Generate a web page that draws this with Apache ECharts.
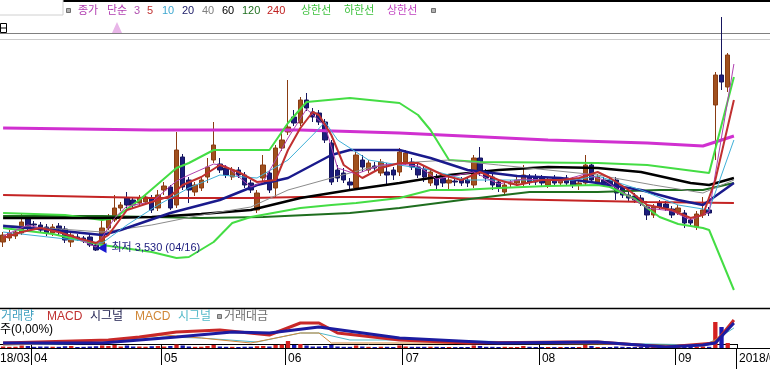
<!DOCTYPE html>
<html><head><meta charset="utf-8">
<script src="https://cdn.jsdelivr.net/npm/echarts@6/dist/echarts.min.js"></script>
<style>html,body{margin:0;padding:0;background:#fff;overflow:hidden}#c{width:770px;height:369px}</style>
</head><body><div id="c"></div>
<script>
// ---------- DATA ----------
const marchDays  = [26,27,28,29,30];
const aprilDays  = [2,3,4,5,6,9,10,11,12,13,16,17,18,19,20,23,24,25,26,27,30];
const mayDays    = [2,3,4,8,9,10,11,14,15,16,17,18,21,23,24,25,28,29,30,31];
const juneDays   = [1,4,5,7,8,11,12,14,15,18,19,20,21,22,25,26,27,28,29];
const julyDays   = [2,3,4,5,6,9,10,11,12,13,16,17,18,19,20,23,24,25,26,27,30,31];
const augustDays = [1,2,3,6,7,8,9,10,13,14,16,17,20,21,22,23,24,27,28,29,30,31];
const septDays   = [3,4,5,6,7,10,11,12,13];
const padSlots   = ['2018/09/14'];

// [open, close, low, high]
const candles = [
[3620,3690,3570,3720],[3660,3710,3630,3740],[3680,3720,3650,3750],[3710,3820,3690,3910],[3850,3770,3740,3890],[3800,3790,3760,3830],[3790,3740,3710,3820],[3770,3710,3680,3800],[3710,3770,3680,3800],[3780,3750,3680,3810],
[3750,3640,3610,3780],[3620,3690,3570,3720],[3670,3660,3630,3700],[3660,3640,3610,3680],[3670,3590,3570,3690],[3590,3540,3530,3610],[3590,3760,3560,3840],[3760,3860,3740,3900],[3840,3960,3820,4090],[3960,3990,3930,4020],
[4060,3990,3960,4120],[4040,3990,3960,4070],[4010,4060,3980,4090],[4020,4070,3990,4100],[4060,3940,3910,4090],[3960,4090,3930,4140],[4140,4180,4090,4220],[4170,3960,3940,4190],[3990,4540,3960,4720],[4470,4170,4140,4500],
[4240,4140,4010,4270],[4120,4190,4080,4220],[4160,4240,4130,4270],[4270,4370,4210,4460],[4440,4590,4410,4820],[4400,4340,4310,4460],[4360,4290,4260,4390],[4270,4340,4240,4370],[4340,4290,4260,4370],[4290,4190,4160,4320],
[4210,4140,4110,4240],[3940,4110,3910,4140],[4260,4390,4230,4490],[4310,4140,4110,4340],[4160,4560,4070,4590],[4560,4640,4530,4740],[4720,4770,4690,5240],[4870,4810,4780,4940],[4810,5040,4780,5070],[5040,4960,4930,5110],
[4920,4870,4820,4960],[4910,4820,4790,4940],[4820,4640,4610,4850],[4610,4220,4190,4640],[4340,4260,4220,4390],[4310,4240,4210,4360],[4220,4190,4140,4260],[4160,4490,4140,4520],[4440,4370,4320,4490],[4340,4410,4310,4440],
[4380,4360,4320,4420],[4310,4420,4280,4450],[4320,4290,4190,4410],[4340,4290,4240,4370],[4320,4520,4280,4560],[4420,4510,4390,4540],[4420,4370,4340,4460],[4370,4290,4260,4400],[4350,4270,4220,4380],[4210,4320,4180,4350],
[4270,4190,4140,4300],[4260,4210,4170,4290],[4210,4240,4140,4270],[4230,4220,4180,4260],[4240,4210,4180,4270],[4240,4210,4170,4270],[4190,4460,4160,4490],[4460,4310,4280,4570],[4320,4260,4220,4350],[4270,4190,4140,4300],
[4220,4170,4120,4250],[4120,4190,4090,4220],[4200,4210,4170,4240],[4210,4240,4180,4270],[4210,4290,4180,4390],[4270,4220,4190,4300],[4270,4220,4190,4300],[4260,4210,4180,4290],[4190,4240,4160,4270],[4260,4210,4180,4290],
[4210,4240,4180,4270],[4260,4210,4180,4290],[4240,4190,4160,4270],[4190,4210,4140,4240],[4210,4390,4180,4490],[4390,4240,4210,4420],[4220,4270,4190,4300],[4240,4210,4180,4270],[4240,4190,4160,4270],[4240,4110,4040,4270],
[4160,4090,4060,4190],[4090,4060,4030,4120],[4080,4040,4010,4110],[4060,4010,3980,4090],[3970,3890,3840,4000],[3890,3970,3860,4000],[4010,3970,3940,4040],[4000,3960,3930,4030],[3950,3890,3860,3980],[3920,3960,3890,3990],
[3910,3810,3760,3940],[3840,3810,3780,3870],[3770,3900,3740,3930],[3890,3940,3860,4070],[3940,3910,3880,3970],[4990,5290,4440,5320],[5290,5220,5140,5870],[5170,5490,5120,5510]
];

const volumes = [
150,120,130,250,200,120,150,150,130,120,
180,200,100,120,150,180,250,200,300,150,
250,150,150,130,180,200,150,200,350,250,
150,120,130,200,300,150,120,120,100,130,
130,180,200,150,300,350,700,300,400,250,
150,150,200,300,150,120,120,250,150,120,
100,130,120,100,250,150,120,120,120,130,
120,100,100,90,100,100,250,200,120,120,
100,120,90,100,200,120,100,100,100,90,
100,100,100,100,300,200,100,90,100,150,
120,100,100,120,150,120,100,100,120,100,
150,120,150,150,120,2600,2100,500
];

// line points: [category index, value]
const envUpper = [[0,4760],[24,4740],[48,4740],[64,4710],[88,4640],[104,4610],[113,4580],[118,4680]];
const ma240 = [[0,4090],[24,4060],[40,4060],[48,4070],[64,4070],[72,4060],[88,4040],[104,4020],[118,4010]];
const ma120 = [[0,3880],[16,3880],[32,3860],[42,3870],[56,3910],[64,3960],[74,4040],[85,4120],[96,4120],[106,4140],[113,4140],[118,4210]];
const ma60 = [[0,3860],[16,3860],[24,3870],[32,3900],[40,3940],[48,4060],[56,4140],[64,4210],[72,4290],[80,4340],[88,4370],[96,4360],[103,4320],[111,4210],[114,4190],[118,4260]];
const ma40 = [[0,3790],[16,3720],[24,3790],[32,3890],[40,3970],[46,4140],[53,4260],[59,4360],[64,4410],[72,4440],[80,4390],[88,4340],[96,4290],[105,4190],[113,4110],[118,4240]];
const ma20 = [[0,3780],[8,3740],[16,3690],[19,3740],[27,3910],[35,4040],[41,4190],[46,4260],[53,4490],[56,4540],[64,4540],[69,4460],[75,4340],[83,4280],[90,4260],[96,4210],[103,4140],[109,4040],[113,3990],[118,4210]];
const ma10 = [[0,3720],[16,3610],[20,3790],[25,3990],[30,4160],[35,4290],[41,4260],[46,4440],[50,4690],[52,4820],[54,4640],[59,4440],[64,4390],[69,4340],[75,4240],[84,4240],[92,4240],[96,4280],[103,4140],[109,3990],[114,3940],[118,4640]];
const ma5 = [[0,3660],[3,3720],[6,3760],[9,3720],[12,3660],[15,3610],[17,3690],[20,3940],[24,4020],[27,4080],[29,4190],[32,4270],[35,4390],[38,4320],[41,4220],[44,4240],[46,4540],[48,4760],[50,4920],[51,4890],[53,4690],[55,4390],[58,4260],[61,4360],[64,4410],[67,4410],[71,4290],[74,4240],[77,4320],[80,4240],[83,4190],[87,4240],[90,4240],[93,4260],[96,4320],[98,4260],[101,4140],[104,3990],[108,3940],[111,3860],[113,3890],[115,4240],[118,5040]];
const ma3 = [[0,3680],[4,3790],[8,3730],[11,3680],[15,3570],[18,3860],[20,3980],[24,4020],[28,4230],[30,4290],[34,4400],[36,4380],[40,4170],[42,4220],[46,4660],[49,4950],[52,4780],[54,4360],[57,4300],[61,4390],[64,4400],[67,4380],[70,4250],[76,4320],[80,4200],[84,4250],[90,4230],[94,4300],[97,4240],[100,4120],[104,3960],[108,3930],[111,3840],[114,3920],[115,4300],[118,5400]];
const bbUpper = [[0,3910],[10,3890],[16,3840],[18,3860],[22,4040],[28,4360],[30,4410],[34,4540],[43,4540],[46,4810],[49,5020],[56,5060],[64,5010],[67,4890],[69,4740],[72,4440],[77,4420],[96,4410],[104,4390],[114,4310],[118,5270]];
const bbLower = [[0,3760],[8,3700],[16,3590],[24,3520],[28,3460],[30,3470],[34,3620],[37,3810],[40,3870],[48,3960],[53,3990],[57,4010],[64,4060],[69,4140],[74,4140],[80,4160],[88,4180],[96,4190],[98,4170],[102,4050],[106,3870],[109,3800],[113,3760],[114,3740],[118,3140]];

const macdLine   = [[0,5],[17,20],[22,35],[28,60],[35,70],[43,45],[48,105],[51,105],[54,55],[64,20],[75,5],[91,10],[96,10],[107,-15],[115,5],[118,120]];
const signalLine = [[0,5],[16,5],[28,35],[37,60],[43,55],[51,85],[64,30],[80,5],[96,10],[107,-15],[113,-5],[115,5],[118,105]];
const macdThin   = [[0,-5],[17,10],[26,45],[32,30],[40,5],[48,55],[51,55],[53,5],[64,5],[96,0],[113,-10],[115,20],[118,110]];
const signalThin = [[0,-5],[17,5],[26,35],[32,30],[41,10],[48,55],[51,55],[56,20],[64,20],[96,5],[113,-5],[115,20],[118,80]];

const topLegend = [
  ['종가','#b03cb0'],['단순','#b03cb0'],['3','#b050b0'],['5','#c03030'],['10','#40a8d0'],['20','#20206a'],
  ['40','#808080'],['60','#000000'],['120','#207020'],['240','#c02020'],['상한선','#3cc03c'],['하한선','#3cc03c'],['상한선','#c040c0']
];
const bottomLegend = [
  ['거래량','#40a0c0'],['MACD','#c03030'],['시그널','#202050'],['MACD','#d08838'],['시그널','#50b8c8'],['거래대금','#707070']
];
const volumeUnitText = '주(0,00%)';
const firstAxisLabel = '2018/03';
const lastAxisLabel = '2018/09';

// ---------- BUILD ----------
const monthLists = [['03',marchDays],['04',aprilDays],['05',mayDays],['06',juneDays],['07',julyDays],['08',augustDays],['09',septDays]];
const categories = [];
monthLists.forEach(([m, days]) => days.forEach(d => categories.push('2018/' + m + '/' + String(d).padStart(2,'0'))));
padSlots.forEach(s => categories.push(s));
const monthStarts = new Set();
categories.forEach((c, i) => { if (i > 0 && c.slice(5,7) !== categories[i-1].slice(5,7)) monthStarts.add(i); });

let lowIdx = 0;
candles.forEach((c, i) => { if (c[2] < candles[lowIdx][2]) lowIdx = i; });
const lowVal = candles[lowIdx][2];
const lowText = '최저 ' + lowVal.toLocaleString('en-US') + ' (' + categories[lowIdx].slice(5) + ')';

const UP = '#a0501e', UPB = '#8a3c12', DN = '#1c1c7c', DNB = '#16165e';
const FONT = '"Liberation Sans","Noto Sans CJK KR",sans-serif';

function ln(data, color, width, xi, yi, z) {
  return { type:'line', data, xAxisIndex:xi||0, yAxisIndex:yi||0, symbol:'none', showSymbol:false,
    lineStyle:{ color, width }, z: z||3, silent:true, animation:false };
}

const series = [
  { type:'candlestick', data: candles, xAxisIndex:0, yAxisIndex:0, barWidth:'80%', z:2,
    itemStyle:{ color:UP, color0:DN, borderColor:UPB, borderColor0:DNB, borderWidth:1 },
    markPoint:{ symbol:'triangle', symbolRotate:90, symbolSize:[10,9], symbolOffset:[6,-3],
      itemStyle:{ color:'#1818d0' },
      label:{ show:true, position:'right', distance:5, color:'#202080', fontSize:11, fontFamily:FONT, formatter: lowText },
      data:[{ coord:[categories[lowIdx], lowVal] }] } },
  ln(envUpper, '#d030d0', 3),
  ln(ma240, '#c42424', 2),
  ln(ma120, '#1f6e1f', 2),
  ln(bbUpper, '#44dd44', 2),
  ln(bbLower, '#44dd44', 2),
  ln(ma60, '#000000', 2.5),
  ln(ma40, '#8c8c8c', 1),
  ln(ma20, '#1a1a8c', 2.5),
  ln(ma10, '#40b0d8', 1),
  ln(ma3, '#b040b0', 1),
  ln(ma5, '#c03030', 2),
  { type:'bar', xAxisIndex:1, yAxisIndex:2, barWidth:'70%', z:2, animation:false,
    data: volumes.map((v, i) => ({ value:v, itemStyle:{ color: candles[i][1] >= candles[i][0] ? '#d42020' : '#1a1ab0' } })) },
  ln(signalThin, '#50b8c8', 1, 1, 1),
  ln(macdThin, '#d08838', 1, 1, 1),
  ln(macdLine, '#c82828', 3, 1, 1),
  ln(signalLine, '#1c1ca0', 3, 1, 1)
];

const els = [];
els.push({ type:'line', z:0, shape:{x1:0,y1:1,x2:770,y2:1}, style:{stroke:'#000',lineWidth:2} });
els.push({ type:'line', z:0, shape:{x1:0,y1:33.5,x2:770,y2:33.5}, style:{stroke:'#808080',lineWidth:1} });
els.push({ type:'line', z:0, shape:{x1:0,y1:39.5,x2:770,y2:39.5}, style:{stroke:'#cccccc',lineWidth:1} });
els.push({ type:'line', z:0, shape:{x1:0,y1:308.5,x2:770,y2:308.5}, style:{stroke:'#000',lineWidth:1.5} });
els.push({ type:'line', z:5, shape:{x1:0,y1:348.5,x2:770,y2:348.5}, style:{stroke:'#000',lineWidth:1} });
els.push({ type:'rect', z:0, shape:{x:-1,y:-1,width:64,height:16}, style:{fill:'#fff',stroke:'#d0d0d0',lineWidth:1} });
els.push({ type:'rect', z:0, shape:{x:66.5,y:8.5,width:4,height:4}, style:{fill:'#b0b0b0',stroke:'#707070',lineWidth:1} });
els.push({ type:'rect', z:0, shape:{x:431.5,y:8.5,width:4,height:4}, style:{fill:'#b0b0b0',stroke:'#707070',lineWidth:1} });
els.push({ type:'rect', z:0, shape:{x:0.5,y:23.5,width:6,height:9}, style:{fill:'#fff',stroke:'#000',lineWidth:1} });
els.push({ type:'line', z:0, shape:{x1:0,y1:28,x2:6,y2:28}, style:{stroke:'#000',lineWidth:1} });
els.push({ type:'polygon', z:0, shape:{points:[[112,33],[117,22],[122,33]]}, style:{fill:'#e8b6e8'} });
const topX = [78,107,134,147,162,182,202,222,242,267,301,344,387];
topLegend.forEach(([t,c], i) => els.push({ type:'text', z:10, style:{ text:t, x:topX[i], y:11, fill:c, font:'11px '+FONT, textVerticalAlign:'middle', verticalAlign:'middle' } }));
const botX = [1,47,90,135,178,224];
bottomLegend.forEach(([t,c], i) => els.push({ type:'text', z:10, style:{ text:t, x:botX[i], y:317, fill:c, font:'12px '+FONT, textVerticalAlign:'middle', verticalAlign:'middle' } }));
els.push({ type:'rect', z:10, shape:{x:217.5,y:314.5,width:4,height:4}, style:{fill:'#b0b0b0',stroke:'#707070',lineWidth:1} });
els.push({ type:'text', z:10, style:{ text:volumeUnitText, x:0, y:330, fill:'#000', font:'12px '+FONT, textVerticalAlign:'middle', verticalAlign:'middle' } });
els.push({ type:'text', z:10, style:{ text:firstAxisLabel, x:30, y:359, fill:'#000', font:'12px '+FONT, textAlign:'right', align:'right', textVerticalAlign:'middle', verticalAlign:'middle' } });
els.push({ type:'rect', z:10, shape:{x:736.5,y:348.5,width:40,height:25}, style:{fill:'#fff',stroke:'#000',lineWidth:1} });
els.push({ type:'text', z:11, style:{ text:lastAxisLabel, x:739, y:359, fill:'#000', font:'12px '+FONT, textVerticalAlign:'middle', verticalAlign:'middle' } });

const option = {
  animation:false,
  backgroundColor:'#ffffff',
  grid:[ {left:0, right:33, top:0, height:308}, {left:0, right:33, top:309, height:39} ],
  xAxis:[
    { type:'category', gridIndex:0, data:categories, boundaryGap:true, axisLine:{show:false}, axisTick:{show:false}, axisLabel:{show:false}, splitLine:{show:false} },
    { type:'category', gridIndex:1, data:categories, boundaryGap:true, position:'bottom',
      axisLine:{ show:true, lineStyle:{ color:'#000', width:1 } },
      axisTick:{ show:true, length:21, interval:(i)=>monthStarts.has(i), lineStyle:{ color:'#000', width:1 } },
      axisLabel:{ show:true, interval:(i)=>monthStarts.has(i), formatter:(v)=>v.slice(5,7), align:'left', margin:5, color:'#000', fontSize:12, fontFamily:FONT },
      splitLine:{show:false} }
  ],
  yAxis:[
    { type:'value', gridIndex:0, min:2960, max:6040, show:false, splitLine:{show:false} },
    { type:'value', gridIndex:1, min:-20, max:175, show:false, splitLine:{show:false} },
    { type:'value', gridIndex:1, min:0, max:3900, show:false, splitLine:{show:false} }
  ],
  series,
  graphic:{ elements: els }
};
const chart = echarts.init(document.getElementById('c'), null, { renderer:'canvas', width:770, height:369 });
chart.setOption(option);
</script>
</body></html>
